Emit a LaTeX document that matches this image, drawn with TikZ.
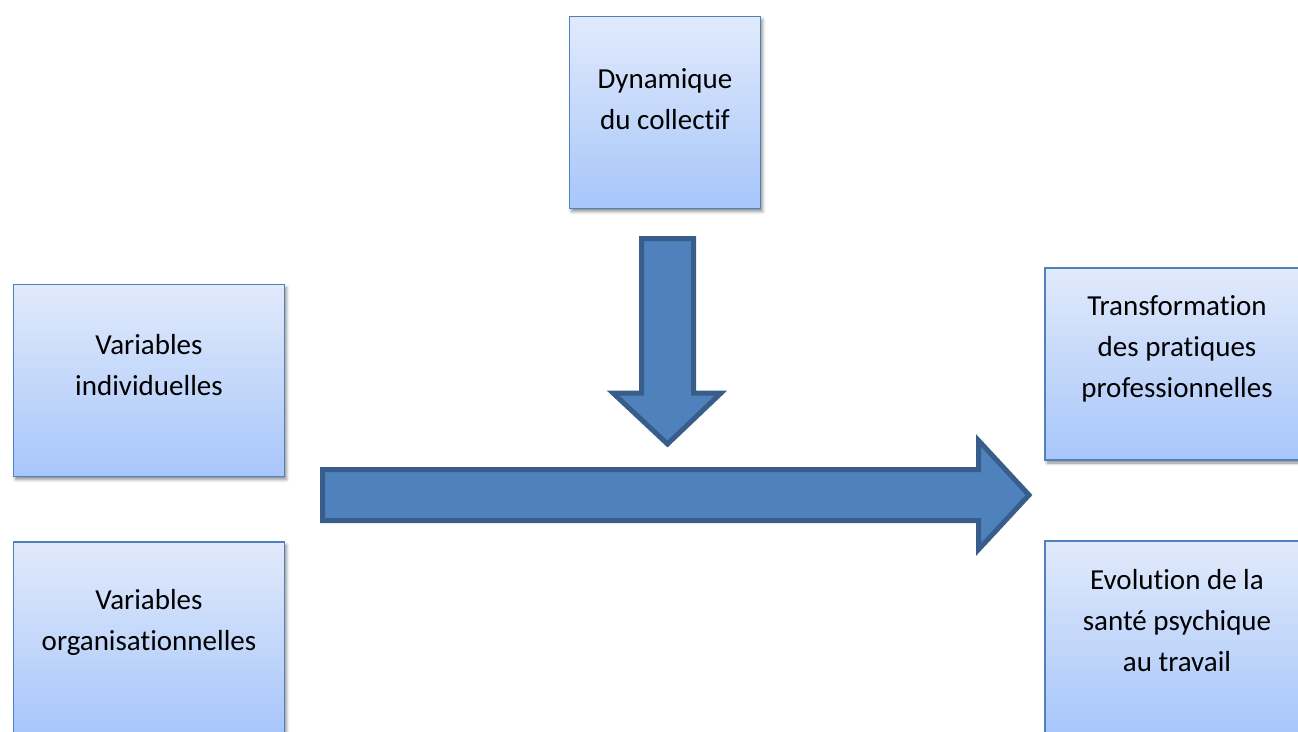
\documentclass[tikz,border=0pt]{standalone}
\usepackage{fontspec}
\setmainfont{Carlito}[RawFeature=-liga, RawFeature=-clig, RawFeature=-dlig, RawFeature=-calt]
\usetikzlibrary{shadows.blur}
\definecolor{boxline}{HTML}{4F81BD}
\definecolor{boxtop}{HTML}{E1EAFB}
\definecolor{boxbot}{HTML}{A7C6FA}
\definecolor{arrfill}{HTML}{4F81BD}
\definecolor{arrline}{HTML}{385D8A}
\tikzset{
  boxnode/.style={rectangle, draw=boxline, line width=1.6pt, top color=boxtop, bottom color=boxbot,
    inner sep=0pt, blur shadow={shadow xshift=2pt, shadow yshift=-3pt, shadow blur radius=3pt, shadow opacity=45}},
  boxtext/.style={align=center, font=\fontsize{29}{41}\selectfont, text=black, inner sep=0pt},
  blockarrow/.style={fill=arrfill, draw=arrline, line width=5pt, line join=miter}
}
\begin{document}
\begin{tikzpicture}[x=1pt,y=-1pt]
\useasboundingbox (0,0) rectangle (1298,731);
\clip (0,0) rectangle (1298,731);
% boxes
\node[boxnode, minimum width=191pt, minimum height=192pt] (dyn) at (665,112.5) {};
\node[boxnode, minimum width=271pt, minimum height=192pt] (ind) at (149,380.5) {};
\node[boxnode, minimum width=271pt, minimum height=192pt] (org) at (149,638) {};
\node[boxnode, minimum width=264pt, minimum height=192pt] (tra) at (1177,364) {};
\node[boxnode, minimum width=264pt, minimum height=192pt] (evo) at (1177,637) {};
% texts
\node[boxtext] (tdyn) at (665,99) {Dynamique\\du collectif};
\node[boxtext] (tind) at (149,365) {Variables\\individuelles};
\node[boxtext] (torg) at (149,622) {Variables\\organisationnelles};
\node[boxtext] (ttra) at (1177,349) {Transformation\\des pratiques\\professionnelles};
\node[boxtext] (tevo) at (1177,621) {Evolution de la\\santé psychique\\au travail};
% vertical block arrow
\draw[blockarrow] (641.5,238.5) -- (693.5,238.5) -- (693.5,393) -- (721,393) -- (667.5,444) -- (613,393) -- (641.5,393) -- cycle;
% horizontal block arrow
\draw[blockarrow] (322.5,469.5) -- (978.5,469.5) -- (978.5,440.5) -- (1029,495) -- (978.5,549.5) -- (978.5,520.5) -- (322.5,520.5) -- cycle;
\end{tikzpicture}
\end{document}
